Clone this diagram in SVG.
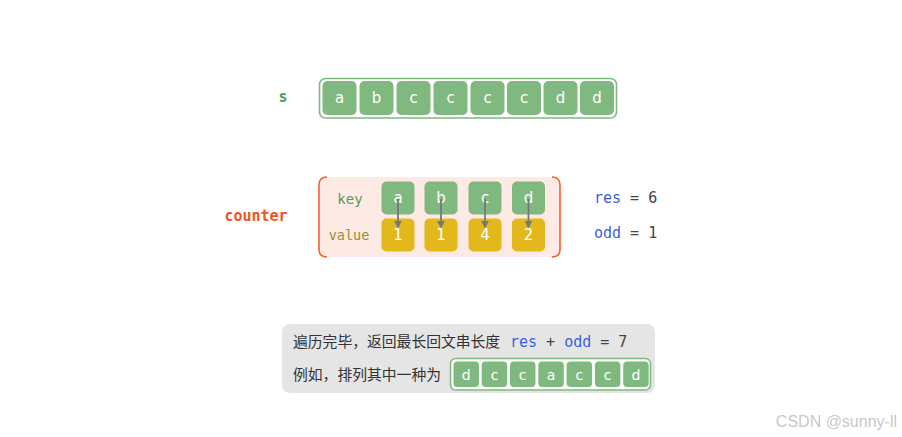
<svg xmlns="http://www.w3.org/2000/svg" width="902" height="437" viewBox="0 0 902 437">
<defs>
<style>
.cell{fill:#80b97f;}
.ycell{fill:#e3b81d;}
.outer{fill:#fff;stroke:#80b97f;stroke-width:1.6;}
.ct{font-family:"DejaVu Sans","Noto Sans",sans-serif;font-size:15px;fill:#fff;text-anchor:middle;}
.cts{font-family:"DejaVu Sans","Noto Sans",sans-serif;font-size:14px;fill:#fff;text-anchor:middle;}
.mono{font-family:"DejaVu Sans Mono","Liberation Mono",monospace;font-size:14px;}
.cn{font-family:"Noto Sans CJK SC","Noto Sans",sans-serif;font-size:14.8px;fill:#333;}
.arr{stroke:#73787f;stroke-width:1.8;fill:none;marker-end:url(#ah);}
</style>
<marker id="ah" viewBox="0 0 10 10" refX="8" refY="5" markerWidth="4.5" markerHeight="4.5" orient="auto"><path d="M0,0 L10,5 L0,10 z" fill="#73787f"/></marker>
</defs>
<rect width="902" height="437" fill="#fff"/>

<g id="s-array">
<text x="283" y="102" class="mono" style="font-weight:bold;fill:#5a9a5a;font-size:15px" text-anchor="middle">s</text>
<rect x="319.5" y="78.5" width="297" height="39.5" rx="6" class="outer"/>
<rect x="322.5" y="81" width="34" height="34" rx="5" class="cell"/><text x="339.5" y="103" class="ct">a</text>
<rect x="359.5" y="81" width="34" height="34" rx="5" class="cell"/><text x="376.5" y="103" class="ct">b</text>
<rect x="396.5" y="81" width="34" height="34" rx="5" class="cell"/><text x="413.5" y="103" class="ct">c</text>
<rect x="433.5" y="81" width="34" height="34" rx="5" class="cell"/><text x="450.5" y="103" class="ct">c</text>
<rect x="470.5" y="81" width="34" height="34" rx="5" class="cell"/><text x="487.5" y="103" class="ct">c</text>
<rect x="507" y="81" width="34" height="34" rx="5" class="cell"/><text x="524" y="103" class="ct">c</text>
<rect x="543.5" y="81" width="34" height="34" rx="5" class="cell"/><text x="560.5" y="103" class="ct">d</text>
<rect x="580" y="81" width="34" height="34" rx="5" class="cell"/><text x="597" y="103" class="ct">d</text>
</g>

<g id="counter">
<text x="256" y="221" class="mono" style="font-weight:bold;fill:#f0541e;font-size:15px" text-anchor="middle">counter</text>
<rect x="319" y="177" width="241" height="80" rx="8" fill="#fdeae4"/>
<path d="M327,177 Q319,177 319,185 L319,249 Q319,257 327,257" fill="none" stroke="#f0622e" stroke-width="1.6"/>
<path d="M552,177 Q560,177 560,185 L560,249 Q560,257 552,257" fill="none" stroke="#f0622e" stroke-width="1.6"/>
<text x="350" y="204" class="mono" style="fill:#5a9a5a;font-size:14px" text-anchor="middle">key</text>
<text x="349" y="240" class="mono" style="fill:#a08a2e;font-size:13.5px" text-anchor="middle">value</text>
</g>

<g id="key-a"><rect x="381.5" y="181.5" width="33" height="33" rx="5" class="cell"/><text x="398" y="203" class="ct">a</text></g>
<g id="key-b"><rect x="424.5" y="181.5" width="33" height="33" rx="5" class="cell"/><text x="441" y="203" class="ct">b</text></g>
<g id="key-c"><rect x="468.5" y="181.5" width="33" height="33" rx="5" class="cell"/><text x="485" y="203" class="ct">c</text></g>
<g id="key-d"><rect x="512" y="181.5" width="33" height="33" rx="5" class="cell"/><text x="528.5" y="203" class="ct">d</text></g>
<g id="val-a"><rect x="381.5" y="218.5" width="33" height="33" rx="5" class="ycell"/><text x="398" y="240" class="ct">1</text></g>
<g id="val-b"><rect x="424.5" y="218.5" width="33" height="33" rx="5" class="ycell"/><text x="441" y="240" class="ct">1</text></g>
<g id="val-c"><rect x="468.5" y="218.5" width="33" height="33" rx="5" class="ycell"/><text x="485" y="240" class="ct">4</text></g>
<g id="val-d"><rect x="512" y="218.5" width="33" height="33" rx="5" class="ycell"/><text x="528.5" y="240" class="ct">2</text></g>

<g id="connectors">
<line x1="398" y1="199" x2="398" y2="227" class="arr"/>
<line x1="441" y1="199" x2="441" y2="227" class="arr"/>
<line x1="485" y1="199" x2="485" y2="227" class="arr"/>
<line x1="528.5" y1="199" x2="528.5" y2="227" class="arr"/>
</g>

<g id="vars">
<text x="594" y="203" class="mono" style="font-size:15px"><tspan fill="#3b5ee0">res</tspan><tspan fill="#444"> = 6</tspan></text>
<text x="594" y="238" class="mono" style="font-size:15px"><tspan fill="#3b5ee0">odd</tspan><tspan fill="#444"> = 1</tspan></text>
</g>

<g id="result">
<rect x="282" y="324" width="373" height="69" rx="8" fill="#e5e5e5"/>
<text x="293" y="347" class="cn">遍历完毕，返回最长回文串长度</text>
<text x="510" y="347" class="mono" style="font-size:15px"><tspan fill="#3b5ee0">res</tspan><tspan fill="#444"> + </tspan><tspan fill="#3b5ee0">odd</tspan><tspan fill="#444"> = 7</tspan></text>
<text x="293" y="380" class="cn">例如，排列其中一种为</text>
<rect x="450.5" y="358.5" width="200" height="31.5" rx="5" class="outer"/>
<rect x="453.5" y="361.5" width="25.5" height="25.5" rx="4" class="cell"/><text x="466.2" y="379.5" class="cts">d</text>
<rect x="481.7" y="361.5" width="25.5" height="25.5" rx="4" class="cell"/><text x="494.5" y="379.5" class="cts">c</text>
<rect x="510" y="361.5" width="25.5" height="25.5" rx="4" class="cell"/><text x="522.7" y="379.5" class="cts">c</text>
<rect x="538.3" y="361.5" width="25.5" height="25.5" rx="4" class="cell"/><text x="551" y="379.5" class="cts">a</text>
<rect x="566.6" y="361.5" width="25.5" height="25.5" rx="4" class="cell"/><text x="579.3" y="379.5" class="cts">c</text>
<rect x="594.9" y="361.5" width="25.5" height="25.5" rx="4" class="cell"/><text x="607.6" y="379.5" class="cts">c</text>
<rect x="623.2" y="361.5" width="25.5" height="25.5" rx="4" class="cell"/><text x="636" y="379.5" class="cts">d</text>
</g>

<text x="897" y="427" font-family="Liberation Sans,Arial,sans-serif" font-size="16" fill="#c8c8c8" text-anchor="end">CSDN @sunny-ll</text>
</svg>
